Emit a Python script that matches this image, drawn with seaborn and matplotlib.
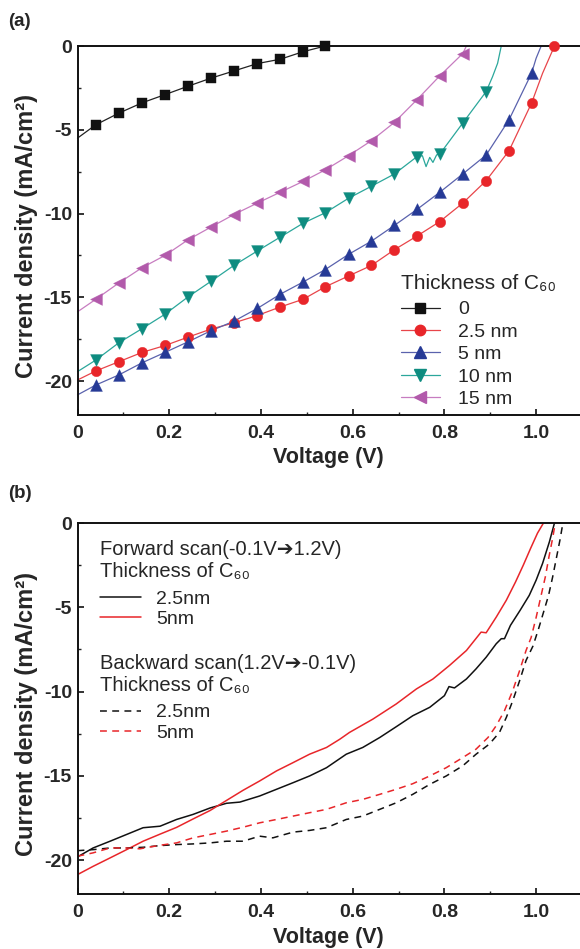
import numpy as np
import pandas as pd
import matplotlib
matplotlib.use("Agg")
import matplotlib.pyplot as plt
import seaborn as sns
from matplotlib.lines import Line2D
from matplotlib.ticker import MultipleLocator

# --- DATA: panel (a), J-V curves with different C60 thickness ---
# marker positions (voltage in V, current density in mA/cm2)
volt_a = [0.040, 0.090, 0.141, 0.191, 0.241, 0.291, 0.341, 0.392, 0.442, 0.492, 0.540,
          0.591, 0.641, 0.691, 0.740, 0.790, 0.840, 0.891, 0.941, 0.990, 1.040]

j_0nm = [-4.70, -4.01, -3.39, -2.90, -2.40, -1.92, -1.49, -1.05, -0.79, -0.34, 0.0]
j_2p5nm = [-19.40, -18.85, -18.29, -17.88, -17.38, -16.90, -16.53, -16.09, -15.58, -15.12, -14.38,
           -13.73, -13.10, -12.16, -11.35, -10.48, -9.38, -8.04, -6.25, -3.41, 0.0]
j_5nm = [-20.24, -19.64, -18.91, -18.29, -17.66, -17.00, -16.43, -15.67, -14.82, -14.09, -13.35,
         -12.44, -11.65, -10.71, -9.76, -8.73, -7.64, -6.51, -4.40, -1.63]
j_10nm = [-18.75, -17.72, -16.87, -16.01, -14.98, -14.05, -13.10, -12.24, -11.41, -10.58, -9.96,
          -9.09, -8.37, -7.64, -6.61, -6.45, -4.60, -2.72]
j_15nm = [-15.12, -14.15, -13.23, -12.50, -11.57, -10.81, -10.06, -9.38, -8.73, -8.08, -7.40,
          -6.55, -5.65, -4.56, -3.21, -1.78, -0.45]

# extra points of the connecting lines (no marker)
ext_v_0nm, ext_j_0nm = [0.0], [-5.50]
ext_v_2p5nm, ext_j_2p5nm = [0.0, 1.014], [-19.94, -1.63]
ext_v_5nm, ext_j_5nm = [0.0, 1.000, 1.011], [-20.83, -0.73, 0.0]
ext_v_10nm = [0.0, 0.752, 0.760, 0.768, 0.775, 0.783, 0.905, 0.916, 0.924]
ext_j_10nm = [-19.44, -6.55, -7.20, -6.65, -6.95, -6.50, -1.83, -1.03, 0.0]
ext_v_15nm, ext_j_15nm = [0.0, 0.848], [-15.87, 0.0]

labels_a = ["0", "2.5 nm", "5 nm", "10 nm", "15 nm"]

# --- DATA: panel (b), forward / backward scans ---
fw_2p5_v = [0.0, 0.034, 0.071, 0.107, 0.143, 0.180, 0.216, 0.252, 0.289, 0.325, 0.354, 0.397, 0.434,
            0.470, 0.506, 0.543, 0.586, 0.622, 0.659, 0.695, 0.731, 0.768, 0.800, 0.810, 0.822, 0.848,
            0.869, 0.891, 0.913, 0.924, 0.931, 0.944, 0.965, 0.985, 1.000, 1.014, 1.029, 1.040]
fw_2p5_j = [-19.80, -19.27, -18.87, -18.47, -18.07, -17.98, -17.58, -17.28, -16.90, -16.62, -16.55,
            -16.19, -15.79, -15.40, -15.00, -14.51, -13.71, -13.31, -12.72, -12.08, -11.43, -10.93,
            -10.24, -9.70, -9.78, -9.25, -8.65, -7.96, -7.16, -6.86, -6.86, -6.07, -5.18, -4.29,
            -3.39, -2.40, -1.11, 0.0]

fw_5_v = [0.0, 0.034, 0.071, 0.107, 0.143, 0.180, 0.216, 0.252, 0.289, 0.325, 0.361, 0.397, 0.434,
          0.470, 0.506, 0.543, 0.572, 0.593, 0.644, 0.695, 0.739, 0.775, 0.811, 0.848, 0.880, 0.891,
          0.913, 0.935, 0.955, 0.972, 0.988, 1.003, 1.016]
fw_5_j = [-20.85, -20.36, -19.86, -19.37, -18.87, -18.45, -18.05, -17.55, -17.05, -16.45, -15.85,
          -15.30, -14.70, -14.21, -13.71, -13.31, -12.82, -12.42, -11.63, -10.73, -9.84, -9.25,
          -8.45, -7.56, -6.47, -6.51, -5.58, -4.58, -3.50, -2.50, -1.50, -0.60, 0.0]

bw_2p5_v = [0.0, 0.034, 0.071, 0.107, 0.143, 0.180, 0.216, 0.252, 0.289, 0.325, 0.361, 0.397, 0.426,
            0.470, 0.506, 0.543, 0.586, 0.622, 0.659, 0.695, 0.731, 0.768, 0.804, 0.840, 0.869,
            0.898, 0.920, 0.935, 0.949, 0.964, 0.978, 0.993, 1.005, 1.016, 1.027, 1.036, 1.044,
            1.052, 1.059]
bw_2p5_j = [-19.43, -19.37, -19.27, -19.27, -19.23, -19.13, -19.07, -19.03, -18.97, -18.87, -18.87,
            -18.57, -18.67, -18.33, -18.23, -18.07, -17.58, -17.38, -16.98, -16.59, -16.09, -15.50,
            -15.00, -14.40, -13.71, -13.11, -12.42, -11.53, -10.54, -9.35, -8.15, -7.30, -6.30,
            -5.30, -4.30, -3.20, -2.10, -1.00, 0.10]

bw_5_v = [0.0, 0.034, 0.071, 0.107, 0.136, 0.180, 0.216, 0.252, 0.289, 0.325, 0.361, 0.397, 0.434,
          0.470, 0.506, 0.543, 0.586, 0.622, 0.659, 0.695, 0.731, 0.768, 0.804, 0.840, 0.869, 0.895,
          0.913, 0.931, 0.949, 0.964, 0.978, 0.989, 1.000, 1.010, 1.020, 1.028, 1.036, 1.043]
bw_5_j = [-19.76, -19.56, -19.27, -19.27, -19.32, -19.11, -18.97, -18.67, -18.47, -18.27, -18.04,
          -17.78, -17.58, -17.38, -17.18, -16.98, -16.59, -16.39, -16.09, -15.79, -15.46, -15.00,
          -14.51, -13.91, -13.41, -12.72, -12.02, -11.13, -9.94, -8.75, -7.56, -6.80, -5.60,
          -4.40, -3.20, -2.00, -0.90, 0.20]

labels_b = ["2.5nm", "5nm"]

x_ticks = [0, 0.2, 0.4, 0.6, 0.8, 1.0]
x_tick_labels = ["0", "0.2", "0.4", "0.6", "0.8", "1.0"]
y_ticks = [0, -5, -10, -15, -20]
y_tick_labels = ["0", "-5", "-10", "-15", "-20"]


# --- STYLE ---
sns.set_style("ticks")
plt.rcParams["font.family"] = ["Liberation Sans", "DejaVu Sans"]
plt.rcParams["axes.unicode_minus"] = False

fig = plt.figure(figsize=(5.8, 9.49), dpi=100)
W, H = 580, 949
ax_a = fig.add_axes([77.5 / W, 1 - 414.5 / H, 504.5 / W, 368.5 / H])
ax_b = fig.add_axes([77.5 / W, 1 - 894 / H, 504.5 / W, 371 / H])


def style_axes(ax):
    ax.set_xlim(0, 1.1)
    ax.set_ylim(-22, 0)
    ax.set_xticks(x_ticks)
    ax.set_xticklabels(x_tick_labels, fontweight="bold")
    ax.set_yticks(y_ticks)
    ax.set_yticklabels(y_tick_labels, fontweight="bold")
    ax.xaxis.set_minor_locator(MultipleLocator(0.1))
    ax.yaxis.set_minor_locator(MultipleLocator(2.5))
    ax.tick_params(which="major", direction="in", length=4.5, width=1.2, labelsize=14,
                   top=False, right=False, color="#111111")
    ax.tick_params(axis="x", which="major", pad=7.5)
    ax.tick_params(axis="y", which="major", pad=4)
    ax.tick_params(which="minor", direction="in", length=2.5, width=1.0, top=False, right=False)
    for side in ["left", "bottom", "top"]:
        ax.spines[side].set_linewidth(1.4)
        ax.spines[side].set_color("#111111")
    ax.spines["right"].set_visible(False)
    ax.set_xlabel("Voltage (V)", fontsize=15.5, fontweight="bold", va="top")
    ax.set_ylabel("Current density (mA/cm²)", fontsize=17, fontweight="bold")
    ax.xaxis.set_label_coords(0.4965, -0.088)
    ax.yaxis.set_label_coords(-0.078, 0.485)


# --- PANEL (a) ---
series_a = [
    (j_0nm, ext_v_0nm, ext_j_0nm, "#222222", "#111111", "s", 6.5),
    (j_2p5nm, ext_v_2p5nm, ext_j_2p5nm, "#e8454a", "#e8262a", "o", 7.5),
    (j_5nm, ext_v_5nm, ext_j_5nm, "#5a62ad", "#263a96", "^", 8.5),
    (j_10nm, ext_v_10nm, ext_j_10nm, "#2ba79b", "#0e8c80", "v", 8.5),
    (j_15nm, ext_v_15nm, ext_j_15nm, "#c77cc0", "#b25aab", "<", 8.5),
]

handles_a = []
for (j_mk, ev, ej, lc, mc, mk, ms) in series_a:
    v_mk = volt_a[:len(j_mk)]
    df_line = pd.DataFrame({"V": v_mk + ev, "J": j_mk + ej}).sort_values("V")
    sns.lineplot(data=df_line, x="V", y="J", ax=ax_a, color=lc, lw=0.9, sort=False,
                 estimator=None, clip_on=False, legend=False)
    sns.scatterplot(x=v_mk, y=j_mk, ax=ax_a, marker=mk, s=ms ** 2, color=mc, edgecolor=mc,
                    linewidth=0.3, clip_on=False, zorder=3, legend=False)
    handles_a.append(Line2D([0], [0], color=lc, lw=0.9, marker=mk, markersize=ms,
                            markerfacecolor=mc, markeredgecolor=mc))

style_axes(ax_a)
leg_a = ax_a.legend(handles_a, labels_a, title="Thickness of C₆₀", loc="lower left",
                    bbox_to_anchor=(0.641, 0.017), frameon=False, fontsize=14, title_fontsize=15,
                    handlelength=2.0, handletextpad=0.95, labelspacing=0.25, borderpad=0,
                    borderaxespad=0, alignment="left")
leg_a._legend_box.sep = 5.7

# --- PANEL (b) ---
dash = (0, (4.5, 3.5))
curves_b = [
    (fw_2p5_v, fw_2p5_j, "#111111", "-"),
    (fw_5_v, fw_5_j, "#e8262a", "-"),
    (bw_2p5_v, bw_2p5_j, "#111111", dash),
    (bw_5_v, bw_5_j, "#e8262a", dash),
]
for (v, j, c, ls) in curves_b:
    sns.lineplot(x=v, y=j, ax=ax_b, color=c, lw=1.1, linestyle=ls, sort=False,
                 estimator=None, legend=False)

style_axes(ax_b)

fw_handles = [Line2D([0], [0], color=c, lw=1.1, linestyle=ls) for (_, _, c, ls) in curves_b[:2]]
bw_handles = [Line2D([0], [0], color=c, lw=1.1, linestyle=ls) for (_, _, c, ls) in curves_b[2:]]
leg_kw = dict(loc="upper left", frameon=False, fontsize=14, title_fontsize=14.5,
              handlelength=2.1, handletextpad=0.8, labelspacing=0.15, borderpad=0,
              borderaxespad=0, alignment="left")
leg1 = ax_b.legend(fw_handles, labels_b, title="Forward scan(-0.1V➔1.2V)\nThickness of C₆₀",
                   bbox_to_anchor=(0.044, 0.954), **leg_kw)
leg1._legend_box.sep = 6.4
ax_b.add_artist(leg1)
leg2 = ax_b.legend(bw_handles, labels_b, title="Backward scan(1.2V➔-0.1V)\nThickness of C₆₀",
                   bbox_to_anchor=(0.044, 0.647), **leg_kw)
leg2._legend_box.sep = 6.4

fig.text(8 / W, 1 - 21.5 / H, "(a)", fontsize=13.5, fontweight="bold", va="center", ha="left")
fig.text(8 / W, 1 - 493 / H, "(b)", fontsize=13.5, fontweight="bold", va="center", ha="left")

fig.savefig("out.png", dpi=100)
